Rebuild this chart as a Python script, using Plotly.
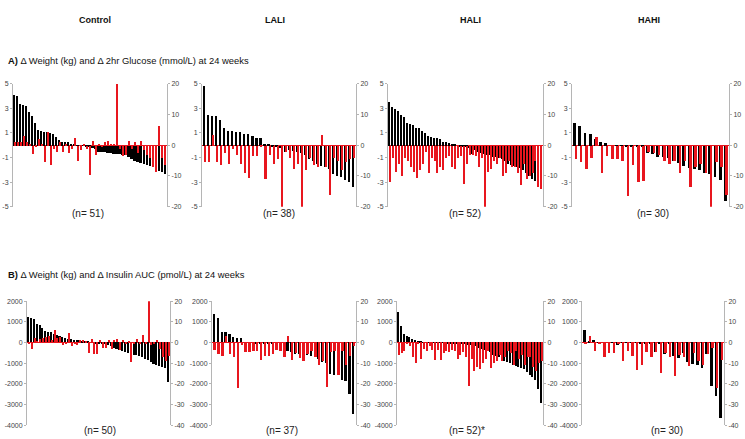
import plotly.graph_objects as go

W, H = 745, 439

groups = ["Control", "LALI", "HALI", "HAHI"]

# Row A: black = delta weight (kg, left axis), red = delta 2hr glucose (right axis)
ctrl_a_black = [4.1, 4.05, 3.35, 3.3, 3.25, 2.7, 2.4, 1.8, 1.3, 1.2,
                1.1, 1.1, 1.05, 0.9, 0.7, 0.45, 0.25, 0.25, 0.25, 0.1,
                0.05, 0.02, 0.0, -0.02, -0.05, -0.1, -0.2, -0.3, -0.5, -0.55,
                -0.55, -0.6, -0.6, -0.65, -0.7, -0.7, -0.75, -0.8, -0.95, -1.1,
                -1.25, -1.35, -1.45, -1.5, -1.6, -1.65, -1.7, -1.8, -2.1, -2.15, -2.35]
ctrl_a_red = [1, 1, 1, 3.2, 1, 0.5, -2.7, -0.5, 2, 0.5,
              -5.5, 4.5, -6.2, -1, -2, 1, -2, 0.5, -2.5, -1,
              2.5, -5.1, -1.5, 0.5, -1, -9.5, 1.5, -3, 0.5, -0.5,
              1, 1.5, 0.5, 0.5, 20, -1, -3.5, -3, 1.5, -1,
              1, -2.5, 1.5, -1.5, -3, -4, -7, -8.5, 6.3, -4, -6.5]

lali_a_black = [4.85, 2.5, 2.4, 2.4, 2.1, 1.4, 1.2, 1.2, 1.1, 1.1,
                0.9, 0.9, 0.8, 0.6, 0.6, 0.15, 0.1, -0.05, -0.1, -0.2,
                -0.5, -0.4, -0.45, -0.55, -0.6, -0.8, -1.1, -1.3, -1.5, -1.7,
                -1.75, -1.9, -2.3, -2.5, -2.6, -2.8, -3.0, -3.35]
lali_a_red = [-5.5, -5.5, 3.4, -5.5, -6.5, -2.5, -6, -1, -3, -6,
              -9, -10.5, -3.5, -3.5, -0.5, -11, -3, -6, -4.5, -20,
              -2, -4, -7.5, -6, -20, -8, -4, -6.5, -7, 3.3,
              -7, -16, -4, -5, -8, -5.5, -4.5, -4]

hali_a_black = [3.5, 3.1, 3.0, 2.8, 2.5, 2.3, 1.8, 1.75, 1.65, 1.45,
                1.4, 1.2, 1.0, 0.8, 0.7, 0.65, 0.6, 0.5, 0.3, 0.3,
                0.2, 0.1, 0.05, 0.0, -0.05, -0.1, -0.15, -0.2, -0.7, -0.4,
                -0.5, -0.6, -0.7, -0.75, -0.8, -0.9, -0.95, -1.0, -1.1, -1.3,
                -1.5, -1.6, -1.7, -1.75, -1.8, -2.0, -2.2, -2.5, -2.7, -2.9, -3.2, -3.35]
hali_a_red = [-12, -4, -8.5, -6, -10, -4, -5, -7, -8.5, -10.5,
              -8, -6, -2, -9, -4, -5, -9, -7, -8, -4,
              -3.5, -7, -7.5, -4, -3.5, -12.5, -6, -3, -3, -3.5,
              -7, -4, -20, -8.5, -7.5, -5, -6, -4, -10, -9,
              -5, -7, -7, -9, -13, -6, -11, -10, -9, -5, -13.5, -14]

hahi_a_black = [1.8, 1.6, 1.0, 0.9, 0.5, 0.3, 0.2, 0.0, -0.02, -0.03,
                -0.05, -0.05, -0.08, -0.1, -0.6, -0.7, -0.9, -0.95, -1.0, -1.3,
                -1.4, -1.7, -1.8, -1.9, -2.0, -2.2, -2.3, -2.6, -2.8, -4.5]
hahi_a_red = [-4.5, -5.5, -7.5, -4, 2.8, -9, -3.5, -4.5, -4.5, -5,
              -16.5, -6.5, -12, -11.5, -2, -2.5, -3, -5, -6, -5,
              -9, -5, -13.5, -7, -6, -9, -20, -5.5, -7, -16]

# Row B: black = left axis (-4000..2000), red = right axis (-40..20)
ctrl_b_black = [1250, 1200, 1150, 900, 850, 700, 550, 500, 480, 400,
                370, 300, 250, 230, 180, 150, 130, 120, 100, 80,
                50, 30, 0, -20, -40, -60, -80, -100, -150, -200,
                -250, -300, -350, -400, -450, -500, -550, -600, -620, -650,
                -700, -800, -850, -950, -1050, -1100, -1150, -1200, -1250, -1900]
ctrl_b_red = [-1, -3, 2, 0.5, 1.5, 2, 2.5, 3, 1, 6,
              2, 2.5, -1.5, -1, 4.5, -2, -1, -1.5, 1, 1,
              0.5, -5, 1.5, -5.5, -5.5, 1, -2.5, -2.5, 1, -3,
              1, 1.5, -3.5, 1, -1, 0.5, -9.5, -1, 1.5, -1,
              3.5, -1, 20, -1.5, -0.5, 1, -3, -7, -9, -6.5]

lali_b_black = [1350, 1200, 500, 480, 380, 250, 230, 200, -20, -30,
                -40, -50, -60, -70, -80, -100, -120, -150, -200, -400,
                -450, -550, -580, -600, -620, -650, -700, -800, -950, -1000,
                -1550, -1580, -1600, -1800, -1850, -2500, -3450]
lali_b_red = [-3.5, -5.5, -6.5, 3, -5.5, -7, -22, -1.5, -4.5, -4.5,
              -4, -4, -8.5, -6.5, -6.5, -5.5, -3.5, -4, -7, 3,
              -8.5, -5, -7.5, -9, -5.5, -4, -7, -11, -9, -21.5,
              -4.5, -4, -16, -4, -11, -6.5, -2]

hali_b_black = [1450, 800, 400, 300, 280, 150, 100, 50, 20, 10,
                0, -5, -10, -15, -20, -25, -30, -35, -40, -50,
                -60, -70, -80, -90, -100, -110, -120, -150, -200, -250,
                -300, -350, -400, -450, -600, -650, -700, -800, -900, -950,
                -1000, -1100, -1150, -1200, -1250, -1300, -1450, -1600, -1700, -1800,
                -2250, -2950]
hali_b_red = [-6, -5, -4, -1, -2, -7, -10, -1, -8, -3,
              -4, -2, -3.5, -8.5, -3.5, -8.5, -5, -4, -4.5, -3.5,
              -4, -8, -6, -4.5, -7, -21, -8, -14, -12, -13,
              -10, -8, -4, -12.5, -10, -9, -6, -9, -7, -4,
              -5, -11, -4, -8, -6, -11, -7, -7, -12, -14, -10, -9]

hahi_b_black = [600, 30, 100, 10, 0, 0, -10, -150, -20, -20,
                -30, -30, -40, -40, -50, -450, -60, -550, -70, -650,
                -750, -500, -950, -1050, -1100, -1250, -550, -2100, -2600, -3650]
hahi_b_red = [-0.5, 3, -4, -1, -7, -5, -5, -1, -9, -4,
              -6.5, -13.5, -11, -4.5, -7, -4.5, -15, -5, -7, -16.5,
              -6, -7, -11.5, -5, -9, -11, -5.5, -2.5, -22, -8.5]

n_labels_a = ["(n= 51)", "(n= 38)", "(n= 52)", "(n= 30)"]
n_labels_b = ["(n= 50)", "(n= 37)", "(n= 52)*", "(n= 30)"]

ticks_a_left = [-5, -3, -1, 1, 3, 5]
ticks_a_right = [-20, -10, 0, 10, 20]
ticks_b_left = [-4000, -3000, -2000, -1000, 0, 1000, 2000]
ticks_b_right = [-40, -30, -20, -10, 0, 10, 20]

panels = [
    (ctrl_a_black, ctrl_a_red), (lali_a_black, lali_a_red),
    (hali_a_black, hali_a_red), (hahi_a_black, hahi_a_red),
    (ctrl_b_black, ctrl_b_red), (lali_b_black, lali_b_red),
    (hali_b_black, hali_b_red), (hahi_b_black, hahi_b_red),
]

# pixel layout of each panel: (left, right) in x, (top, bottom) in y
x_px = [(13, 167), (202, 356), (388, 543), (572, 729),
        (27, 170), (212, 356), (397, 543), (582, 724)]
y_px_top = (81, 206)
y_px_bot = (302, 428)

grey = "#b5b5b5"
red = "#e8161e"
font_fam = "Liberation Sans, Arial"
tickfont = dict(size=7, color="#444", family=font_fam)


def labels(vals):
    # plain hyphen for negatives, like the original
    return [str(v) for v in vals]


fig = go.Figure()
layout = {}
for k, (black_vals, red_vals) in enumerate(panels):
    xa = "x" if k == 0 else f"x{k + 1}"
    yl = "y" if k == 0 else f"y{2 * k + 1}"
    yr = f"y{2 * k + 2}"
    n = len(black_vals)
    xs = list(range(n))
    fig.add_trace(go.Bar(x=xs, y=black_vals, xaxis=xa, yaxis=yl, marker_color="#000000",
                         marker_line_width=0, width=0.56, offset=-0.38, showlegend=False))
    fig.add_trace(go.Bar(x=xs, y=red_vals, xaxis=xa, yaxis=yr, marker_color=red,
                         marker_line_width=0, width=0.5, offset=-0.1, showlegend=False))

    x0, x1 = x_px[k]
    t, b = y_px_top if k < 4 else y_px_bot
    ydom = [1 - b / H, 1 - t / H]
    if k < 4:
        lrange, ltick = [-5, 5], ticks_a_left
        rrange, rtick = [-20, 20], ticks_a_right
    else:
        lrange, ltick = [-4000, 2000], ticks_b_left
        rrange, rtick = [-40, 20], ticks_b_right

    layout["xaxis" if k == 0 else f"xaxis{k + 1}"] = dict(
        domain=[x0 / W, x1 / W], anchor=yl, range=[-0.6, n - 0.4],
        showticklabels=False, showgrid=False, zeroline=False, showline=False, ticks="")
    layout["yaxis" if k == 0 else f"yaxis{2 * k + 1}"] = dict(
        domain=ydom, anchor=xa, range=lrange, tickvals=ltick, ticktext=labels(ltick),
        showgrid=False, zeroline=True, zerolinecolor=red, zerolinewidth=1,
        showline=True, linecolor=grey, linewidth=1, ticks="outside", ticklen=2,
        tickcolor=grey, tickfont=tickfont)
    layout[f"yaxis{2 * k + 2}"] = dict(
        overlaying=yl, anchor=xa, side="right", range=rrange, tickvals=rtick,
        ticktext=labels(rtick), showgrid=False, zeroline=False, showline=True,
        linecolor=grey, linewidth=1, ticks="outside", ticklen=2, tickcolor=grey,
        tickfont=tickfont)


def note(text, px, py, size, xanchor="center", color="#222"):
    return dict(x=px / W, y=1 - py / H, xref="paper", yref="paper", text=text,
                xanchor=xanchor, yanchor="middle", showarrow=False,
                font=dict(size=size, color=color, family=font_fam))


annotations = []
header_x = [95, 275, 470, 649]
for g, hx in zip(groups, header_x):
    annotations.append(note(f"<b>{g}</b>", hx, 16, 9, color="#111"))
annotations.append(note("<b>A)</b> Δ Weight (kg) and Δ 2hr Glucose (mmol/L) at 24 weeks",
                        6, 57, 9.4, xanchor="left", color="#111"))
annotations.append(note("<b>B)</b> Δ Weight (kg) and Δ Insulin AUC (pmol/L) at 24 weeks",
                        6, 275, 9.4, xanchor="left", color="#111"))
na_x = [88, 279, 465, 653]
nb_x = [100, 282, 467, 667]
for lab, nx in zip(n_labels_a, na_x):
    annotations.append(note(lab, nx, 213, 10))
for lab, nx in zip(n_labels_b, nb_x):
    annotations.append(note(lab, nx, 433, 10))

fig.update_layout(**layout)
fig.update_layout(
    width=W, height=H, margin=dict(l=0, r=0, t=0, b=0),
    paper_bgcolor="white", plot_bgcolor="white",
    bargap=0, annotations=annotations,
)
fig.write_html("out.html", config={"displayModeBar": False},
               post_script="document.body.style.margin='0';")
